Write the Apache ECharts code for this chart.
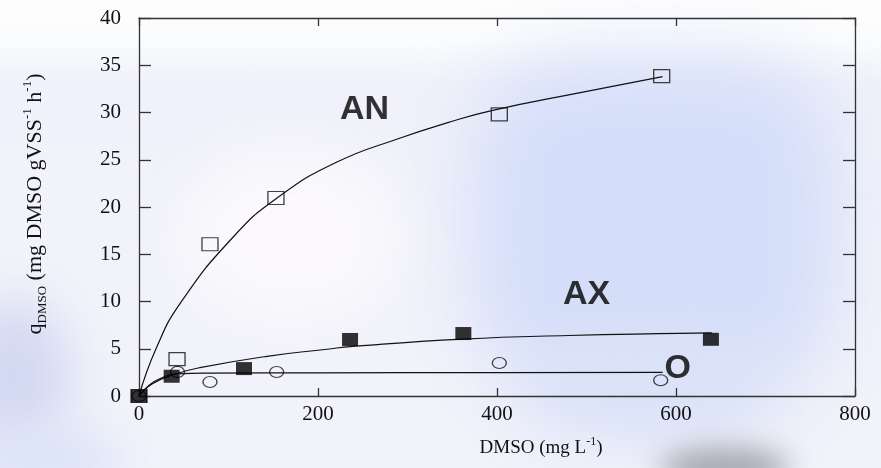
<!DOCTYPE html>
<html>
<head>
<meta charset="utf-8">
<script src="https://cdn.jsdelivr.net/npm/echarts@6/dist/echarts.min.js"></script>
<style>
  html, body { margin: 0; padding: 0; }
  #wrap {
    position: relative;
    width: 881px;
    height: 468px;
    overflow: hidden;
    background: linear-gradient(to bottom, #fdfdfd 0px, #fbfcfd 40px, #f0f1fa 85px, #f2f3fa 300px, #f1f2fa 468px);
  }
  .haze { position: absolute; border-radius: 50%; }
  #chart { position: absolute; left: 0; top: 0; width: 881px; height: 468px; }
</style>
</head>
<body>
<div id="wrap">
  <div class="haze" style="left:470px;top:60px;width:370px;height:330px;background:#d5def9;filter:blur(38px);border-radius:30%;"></div>
  <div class="haze" style="left:520px;top:330px;width:260px;height:110px;background:#dae2f8;filter:blur(30px);"></div>
  <div class="haze" style="left:-40px;top:300px;width:110px;height:150px;background:#d3d8f2;filter:blur(25px);"></div>
  <div class="haze" style="left:-30px;top:430px;width:150px;height:60px;background:#dce3f8;filter:blur(20px);"></div>
  <div class="haze" style="left:660px;top:448px;width:130px;height:40px;background:#a4a5af;filter:blur(14px);"></div>
  <div class="haze" style="left:180px;top:150px;width:220px;height:170px;background:#fbf9fc;filter:blur(30px);"></div>
  <div id="chart"></div>
</div>
<script>
// Axis ranges and ticks
const xMin = 0, xMax = 800, xStep = 200;
const yMin = 0, yMax = 40, yStep = 5;

// Measured specific uptake rates (open squares = AN, filled squares = AX, circles = O)
const anX = [0, 42.5, 79.3, 153, 402.6, 584];
const anY = [0, 3.9, 16.05, 20.95, 29.8, 33.85];

const axX = [0, 36.5, 117.3, 235.8, 362.4, 639];
const axY = [0, 2.09, 2.9, 5.98, 6.61, 6.0];

const oX = [0, 43, 79.3, 153.8, 402.6, 582.9];
const oY = [0, 2.55, 1.48, 2.54, 3.5, 1.66];

// Fitted kinetic curves
const anFitX = [0, 19, 46, 105, 155, 220, 292, 344, 394, 493, 585];
const anFitY = [0, 5, 9.8, 16.8, 21.0, 24.7, 27.3, 28.9, 30.2, 32.1, 33.8];

const axFitX = [0, 15, 40, 68, 143, 210, 239, 362, 480, 604, 640];
const axFitY = [0, 1.3, 2.3, 3.0, 4.2, 4.95, 5.25, 6.02, 6.4, 6.62, 6.68];

const oFitX = [0, 12, 25, 42, 80, 200, 400, 585];
const oFitY = [0, 1.2, 1.9, 2.35, 2.42, 2.45, 2.48, 2.5];

// Condition labels placed in data units
const condLabels = [
  { text: 'AN', x: 252, y: 30.3 },
  { text: 'AX', x: 500, y: 10.7 },
  { text: 'O',  x: 602, y: 2.9 }
];

const pair = (xs, ys) => xs.map((v, i) => [v, ys[i]]);

const serif = 'Liberation Serif, Times New Roman, serif';
const ellipsePath = 'path://M0,-1A1,1 0 1,1 0,1A1,1 0 1,1 0,-1Z';

const lineStyle = { color: '#111', width: 1.2 };

const chart = echarts.init(document.getElementById('chart'), null, { renderer: 'canvas' });

const axisCommon = {
  axisLine: { show: true, onZero: false, lineStyle: { color: '#333', width: 1.3 } },
  splitLine: { show: false }
};

chart.setOption({
  backgroundColor: 'transparent',
  animation: false,
  grid: { left: 139, right: 26, top: 18, bottom: 72, containLabel: false },
  xAxis: [
    Object.assign({
      type: 'value', min: xMin, max: xMax, interval: xStep, position: 'bottom',
      axisTick: { show: true, inside: true, length: 8, lineStyle: { color: '#333', width: 1.3 } },
      axisLabel: { color: '#111', fontFamily: serif, fontSize: 21, margin: 8 },
      name: '{n|DMSO (mg L}{sup|-1}{n|)}',
      nameLocation: 'middle',
      nameGap: 40,
      nameTextStyle: {
        padding: [0, 0, 0, 88],
        rich: {
          n: { fontFamily: serif, fontSize: 19, color: '#111', lineHeight: 22, verticalAlign: 'bottom' },
          sup: { fontFamily: serif, fontSize: 12, color: '#111', lineHeight: 12, verticalAlign: 'top' }
        }
      }
    }, axisCommon),
    Object.assign({
      type: 'value', min: xMin, max: xMax, interval: xStep, position: 'top',
      axisTick: { show: true, inside: true, length: 8, lineStyle: { color: '#333', width: 1.3 } },
      axisLabel: { show: false }
    }, axisCommon)
  ],
  yAxis: [
    Object.assign({
      type: 'value', min: yMin, max: yMax, interval: yStep, position: 'left',
      axisTick: { show: true, inside: true, length: 12, lineStyle: { color: '#333', width: 1.3 } },
      axisLabel: { color: '#111', fontFamily: serif, fontSize: 21, margin: 18 },
      name: '{n|q}{sub|DMSO}{n| (mg DMSO gVSS}{sup|-1}{n| h}{sup|-1}{n|)}',
      nameLocation: 'middle',
      nameRotate: 90,
      nameGap: 90,
      nameTextStyle: {
        padding: [0, 0, 0, 6],
        rich: {
          n: { fontFamily: serif, fontSize: 22, color: '#111', lineHeight: 28 },
          sub: { fontFamily: serif, fontSize: 13, color: '#111', lineHeight: 13, verticalAlign: 'bottom' },
          sup: { fontFamily: serif, fontSize: 13, color: '#111', lineHeight: 13, verticalAlign: 'top' }
        }
      }
    }, axisCommon),
    Object.assign({
      type: 'value', min: yMin, max: yMax, interval: yStep, position: 'right',
      axisTick: { show: true, inside: true, length: 12, lineStyle: { color: '#333', width: 1.3 } },
      axisLabel: { show: false }
    }, axisCommon)
  ],
  series: [
    { name: 'AN fit', type: 'line', data: pair(anFitX, anFitY), smooth: true, symbol: 'none', lineStyle, z: 2 },
    { name: 'AX fit', type: 'line', data: pair(axFitX, axFitY), smooth: true, symbol: 'none', lineStyle, z: 2 },
    { name: 'O fit', type: 'line', data: pair(oFitX, oFitY), smooth: true, symbol: 'none', lineStyle, z: 2 },
    {
      name: 'AN', type: 'scatter', data: pair(anX, anY), symbol: 'rect', symbolSize: [16, 13], z: 3,
      itemStyle: { color: 'rgba(0,0,0,0)', borderColor: '#111', borderWidth: 1.2 }
    },
    {
      name: 'O', type: 'scatter', data: pair(oX, oY), symbol: ellipsePath, symbolSize: [14, 11], z: 3,
      itemStyle: { color: 'rgba(0,0,0,0)', borderColor: '#111', borderWidth: 1.2 }
    },
    {
      name: 'AX', type: 'scatter', data: pair(axX, axY), symbol: 'rect', symbolSize: [16, 13], z: 4,
      itemStyle: { color: '#000', borderColor: '#000', borderWidth: 0 }
    },
    {
      name: 'labels', type: 'scatter', data: condLabels.map(d => ({ value: [d.x, d.y], name: d.text })),
      symbolSize: 0, z: 5, silent: true,
      label: {
        show: true, position: 'inside', formatter: p => p.name,
        fontFamily: 'Liberation Sans, Arial, sans-serif', fontWeight: 'bold', fontSize: 34, color: '#000'
      }
    }
  ]
});
</script>
</body>
</html>
